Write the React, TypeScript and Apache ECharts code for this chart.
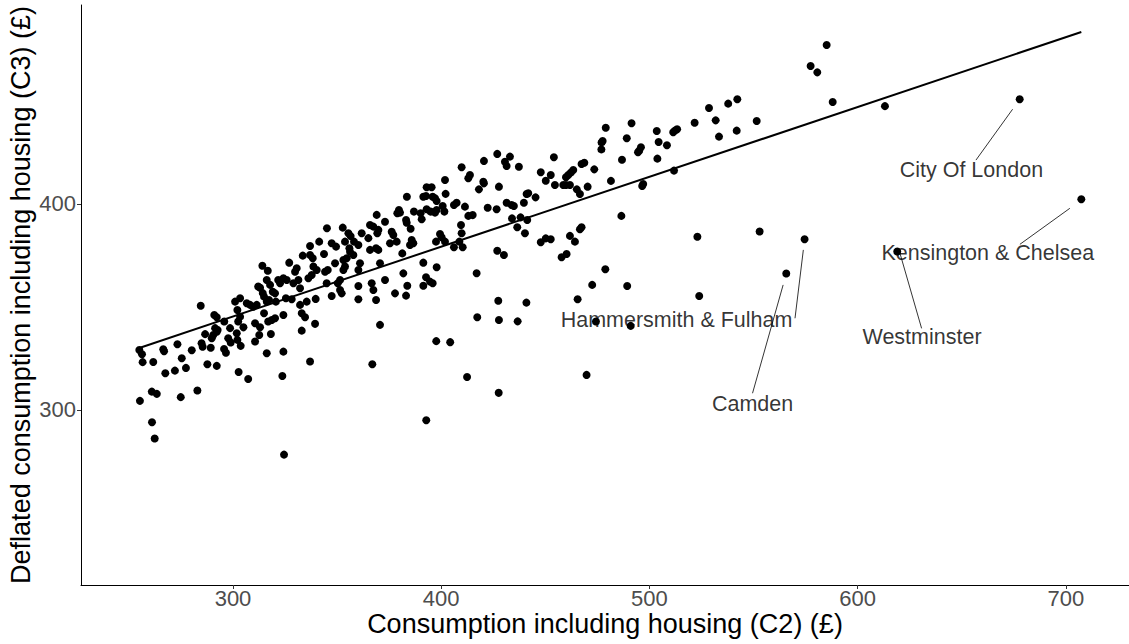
import React, { useEffect, useRef } from "react";
import * as echarts from "echarts";

// Consumption including housing (C2), £ per area
const c2 = [
  255.0, 256.3, 256.6, 261.7, 266.5, 266.9, 273.3, 275.4, 272.1, 267.5,
  277.4, 280.2, 284.5, 284.9, 285.4, 286.6, 287.7, 292.2, 289.3, 291.0,
  292.2, 291.4, 292.2, 290.5, 292.6, 289.8, 295.7, 296.6, 295.8, 298.6,
  297.7, 298.9, 301.8, 302.1, 303.7, 305.0, 302.5, 301.0, 303.4, 302.1,
  303.4, 306.6, 308.2, 309.7, 311.4, 310.6, 313.0, 312.6, 310.6, 314.9,
  316.9, 318.6, 320.2, 318.2, 316.2, 324.2, 324.2, 312.1, 313.0, 314.3,
  314.9, 314.1, 316.7, 316.2, 317.8, 319.1, 320.2, 317.3, 316.2, 320.6,
  321.7, 322.6, 324.2, 325.8, 325.4, 328.2, 327.0, 329.8, 330.6, 329.0,
  331.4, 332.2, 332.2, 333.0, 334.6, 333.0, 335.4, 339.7, 339.4, 336.2,
  333.5, 337.0, 337.0, 338.3, 338.6, 340.2, 337.8, 341.4, 337.0, 323.7,
  302.7, 307.3, 282.9, 274.9, 261.0, 263.4, 255.3, 261.1, 262.4, 324.5,
  345.1, 352.7, 343.7, 347.4, 349.5, 349.0, 345.0, 344.2, 345.5, 347.4,
  351.4, 352.2, 350.3, 351.4, 353.0, 353.8, 353.0, 354.6, 356.2, 355.9,
  355.4, 356.5, 353.8, 358.1, 360.2, 357.8, 361.0, 360.2, 361.8, 365.0,
  365.8, 368.7, 369.8, 370.6, 366.6, 367.4, 368.7, 360.2, 360.2, 373.0,
  377.8, 378.9, 365.8, 367.4, 369.0, 369.8, 369.3, 373.0, 376.2, 377.0,
  375.4, 378.6, 370.6, 366.9,
  409.8, 413.8, 413.0, 420.5, 426.9, 401.8, 383.5, 393.0, 395.4, 391.4,
  392.7, 395.9, 397.0, 397.8, 402.1, 407.4, 406.1, 400.7, 393.0, 394.9,
  397.0, 397.8, 401.5, 390.1, 390.6, 386.9, 383.1, 383.4, 379.7, 380.2,
  385.3, 385.8, 386.6, 385.0, 381.3, 391.4, 397.8, 392.7, 394.6, 395.9,
  391.4, 397.5, 400.2, 399.4, 401.8, 406.1, 410.3, 408.7, 409.8, 409.5,
  411.4, 413.0, 415.1, 418.1, 420.2, 420.5, 422.3, 426.6, 427.7, 426.9,
  417.0, 383.7, 383.1, 417.3, 427.4, 427.7,
  433.0, 430.6, 431.4, 437.3, 431.4, 433.8, 434.9, 434.0, 438.1, 441.3,
  436.5, 440.2, 439.7, 441.0, 441.8, 445.3, 447.8, 450.2, 452.6, 454.1,
  454.6, 458.6, 459.9, 459.9, 461.0, 462.2, 463.4, 461.8, 465.1, 466.6,
  467.4, 468.7, 470.3, 473.5, 447.8, 450.2, 452.6, 461.8, 464.2, 466.6,
  467.4, 430.1, 457.8, 460.2, 472.5,
  585.1, 577.4, 580.6, 588.0, 542.2, 537.8, 528.6, 531.8, 541.9, 533.4,
  551.5, 521.7, 513.3, 512.2, 511.4, 503.5, 504.4, 508.4, 503.8, 511.8,
  491.4, 489.1, 479.0, 477.5, 477.0, 476.9, 495.9, 495.1, 494.5, 486.8,
  481.5, 497.0, 496.5, 486.5,
  381.8, 440.9, 436.7, 397.6, 404.3, 412.4, 427.6, 392.8, 469.8, 465.5,
  478.8, 489.3, 474.3, 491.0,
  523.0, 523.9, 552.9, 574.5, 565.7,
  613.1, 677.8, 707.4, 619.0,
];

// Deflated consumption including housing (C3), £ per area
const c3 = [
  329.1, 327.0, 323.2, 323.3, 329.5, 328.5, 331.9, 325.1, 319.1, 317.8,
  320.4, 329.0, 350.6, 332.4, 330.7, 336.8, 322.2, 321.4, 330.2, 346.1,
  345.0, 339.7, 338.0, 336.4, 338.8, 334.8, 329.6, 327.8, 342.9, 339.7,
  334.8, 332.7, 337.2, 334.0, 331.1, 340.1, 342.9, 352.6, 354.2, 348.5,
  345.3, 351.8, 351.0, 350.1, 351.0, 342.1, 340.1, 336.4, 333.2, 346.9,
  342.9, 343.7, 344.5, 336.9, 327.5, 328.3, 346.1, 359.9, 359.3, 356.7,
  355.0, 370.0, 367.6, 363.1, 360.7, 357.4, 356.6, 353.4, 352.6, 352.6,
  363.1, 361.5, 363.9, 363.1, 354.2, 353.7, 371.5, 367.1, 368.8, 361.5,
  363.1, 359.1, 351.0, 346.9, 345.0, 338.5, 352.6, 353.9, 341.8, 363.9,
  374.9, 379.6, 375.2, 373.6, 369.6, 367.9, 365.5, 381.7, 323.5, 316.5,
  318.4, 315.0, 309.4, 306.2, 308.9, 307.8, 304.4, 294.0, 286.1, 278.3,
  388.2, 388.5, 375.7, 380.9, 379.3, 371.2, 361.5, 367.1, 367.9, 355.3,
  358.2, 356.6, 361.5, 363.1, 367.9, 369.6, 372.8, 373.6, 376.8, 378.5,
  385.8, 384.4, 381.7, 381.7, 380.1, 375.2, 371.2, 367.9, 385.8, 383.4,
  377.7, 378.5, 377.7, 371.2, 361.5, 358.2, 353.4, 360.2, 353.7, 363.1,
  356.6, 395.5, 389.8, 389.0, 394.7, 387.4, 385.8, 391.4, 386.5, 384.9,
  380.9, 381.7, 341.3, 322.2,
  417.8, 414.1, 412.5, 420.9, 424.3, 411.6, 403.5, 408.1, 408.1, 403.5,
  403.9, 403.5, 402.8, 401.4, 404.9, 400.6, 399.5, 399.0, 397.4, 396.3,
  395.8, 397.1, 396.3, 395.5, 392.6, 396.3, 392.2, 390.9, 397.1, 395.8,
  388.0, 382.5, 380.9, 380.1, 376.0, 371.5, 369.3, 364.4, 362.3, 361.5,
  360.3, 381.7, 383.8, 385.4, 381.7, 379.0, 379.0, 381.7, 385.8, 389.8,
  398.7, 394.2, 394.6, 407.1, 410.8, 410.0, 398.2, 397.4, 408.4, 377.3,
  366.4, 360.3, 355.5, 345.0, 353.0, 343.7,
  423.0, 420.5, 418.4, 418.1, 400.6, 399.5, 399.0, 393.0, 393.5, 392.2,
  388.7, 385.8, 400.6, 404.8, 405.2, 403.2, 415.4, 411.3, 414.1, 422.7,
  409.2, 409.2, 409.2, 413.0, 414.1, 415.2, 416.5, 409.2, 407.1, 404.8,
  419.4, 420.0, 408.4, 416.8, 381.4, 383.3, 382.9, 384.5, 381.7, 387.7,
  388.7, 375.2, 374.1, 375.7, 360.7,
  477.2, 467.0, 463.9, 449.5, 450.8, 448.7, 446.6, 440.6, 435.6, 432.7,
  440.3, 439.4, 436.3, 435.6, 434.8, 435.4, 430.1, 428.5, 422.0, 416.2,
  439.2, 431.9, 437.0, 430.6, 429.9, 426.5, 427.5, 425.9, 425.1, 421.5,
  411.2, 409.7, 408.7, 394.2,
  366.3, 352.1, 343.0, 333.4, 332.9, 316.0, 308.3, 295.0, 317.0, 353.7,
  368.3, 360.2, 342.9, 340.8,
  384.1, 355.3, 386.6, 382.9, 366.2,
  447.5, 450.8, 402.3, 376.9,
];

const xTicks = [300, 400, 500, 600, 700];
const yTicks = [300, 400];

// Ends of the fitted linear trend
const fitC2 = [255.0, 707.4];
const fitC3 = [330.1, 483.5];

// Named outliers: label centre and leader line (from point side to label side)
const labelNames = ["City Of London", "Kensington & Chelsea", "Westminster", "Hammersmith & Fulham", "Camden"];
const labelC2 = [654.6, 662.5, 630.9, 513.0, 549.5];
const labelC3 = [416.5, 376.1, 335.6, 343.7, 302.9];
const leaderFrom = [[674.4, 446.0], [701.9, 397.9], [620.3, 376.1], [573.9, 377.7], [564.2, 360.7]];
const leaderTo = [[656.8, 421.3], [677.9, 380.4], [630.7, 339.6], [569.9, 344.5], [549.5, 308.1]];

const FONT = "Liberation Sans, Arial, sans-serif";

export default function App() {
  const ref = useRef<HTMLDivElement>(null);

  useEffect(() => {
    if (!ref.current) return;
    const chart = echarts.init(ref.current, undefined, { renderer: "svg" });
    const points = c2.map((x, i) => [x, c3[i]]);

    chart.setOption({
      animation: false,
      grid: { left: 81, right: 0, top: 5, bottom: 59, containLabel: false, outerBoundsMode: "none" },
      xAxis: {
        type: "value",
        min: 227,
        max: 730.3,
        name: "Consumption including housing (C2) (£)",
        nameLocation: "middle",
        nameGap: 25,
        nameMoveOverlap: false,
        nameTextStyle: { fontSize: 27, color: "#000", fontFamily: FONT },
        axisLine: { show: true, lineStyle: { color: "#000", width: 1 } },
        axisTick: { show: true, customValues: xTicks, length: 4, lineStyle: { color: "#333" } },
        axisLabel: { customValues: xTicks, fontSize: 22, color: "#4d4d4d", margin: 2, fontFamily: FONT },
        splitLine: { show: false },
      },
      yAxis: {
        type: "value",
        min: 215,
        max: 496.6,
        name: "Deflated consumption including housing (C3) (£)",
        nameLocation: "middle",
        nameGap: 47,
        nameMoveOverlap: false,
        nameTextStyle: { fontSize: 27, color: "#000", fontFamily: FONT },
        axisLine: { show: true, lineStyle: { color: "#000", width: 1 } },
        axisTick: { show: true, customValues: yTicks, length: 4, lineStyle: { color: "#333" } },
        axisLabel: { customValues: yTicks, fontSize: 22, color: "#4d4d4d", margin: 5, fontFamily: FONT },
        splitLine: { show: false },
      },
      series: [
        {
          type: "scatter",
          data: points,
          symbolSize: 8,
          itemStyle: { color: "#000", opacity: 1 },
          silent: true,
          z: 3,
        },
        {
          type: "line",
          data: [[fitC2[0], fitC3[0]], [fitC2[1], fitC3[1]]],
          showSymbol: false,
          lineStyle: { color: "#000", width: 2 },
          silent: true,
          z: 4,
        },
        {
          type: "lines",
          coordinateSystem: "cartesian2d",
          data: leaderFrom.map((p, i) => ({ coords: [p, leaderTo[i]] })),
          lineStyle: { color: "#000", width: 0.8, opacity: 1 },
          silent: true,
          z: 5,
        },
        {
          type: "scatter",
          data: labelNames.map((n, i) => ({ name: n, value: [labelC2[i], labelC3[i]] })),
          symbolSize: 1,
          itemStyle: { color: "rgba(0,0,0,0)" },
          label: {
            show: true,
            position: "inside",
            formatter: "{b}",
            color: "#000",
            fontSize: 21.5,
            fontFamily: FONT,
            textBorderWidth: 0,
          },
          silent: true,
          z: 6,
        },
      ],
    });

    return () => chart.dispose();
  }, []);

  return (
    <div
      ref={ref}
      style={{ position: "fixed", left: 0, top: 0, width: 1129, height: 644, background: "#fff" }}
    />
  );
}
